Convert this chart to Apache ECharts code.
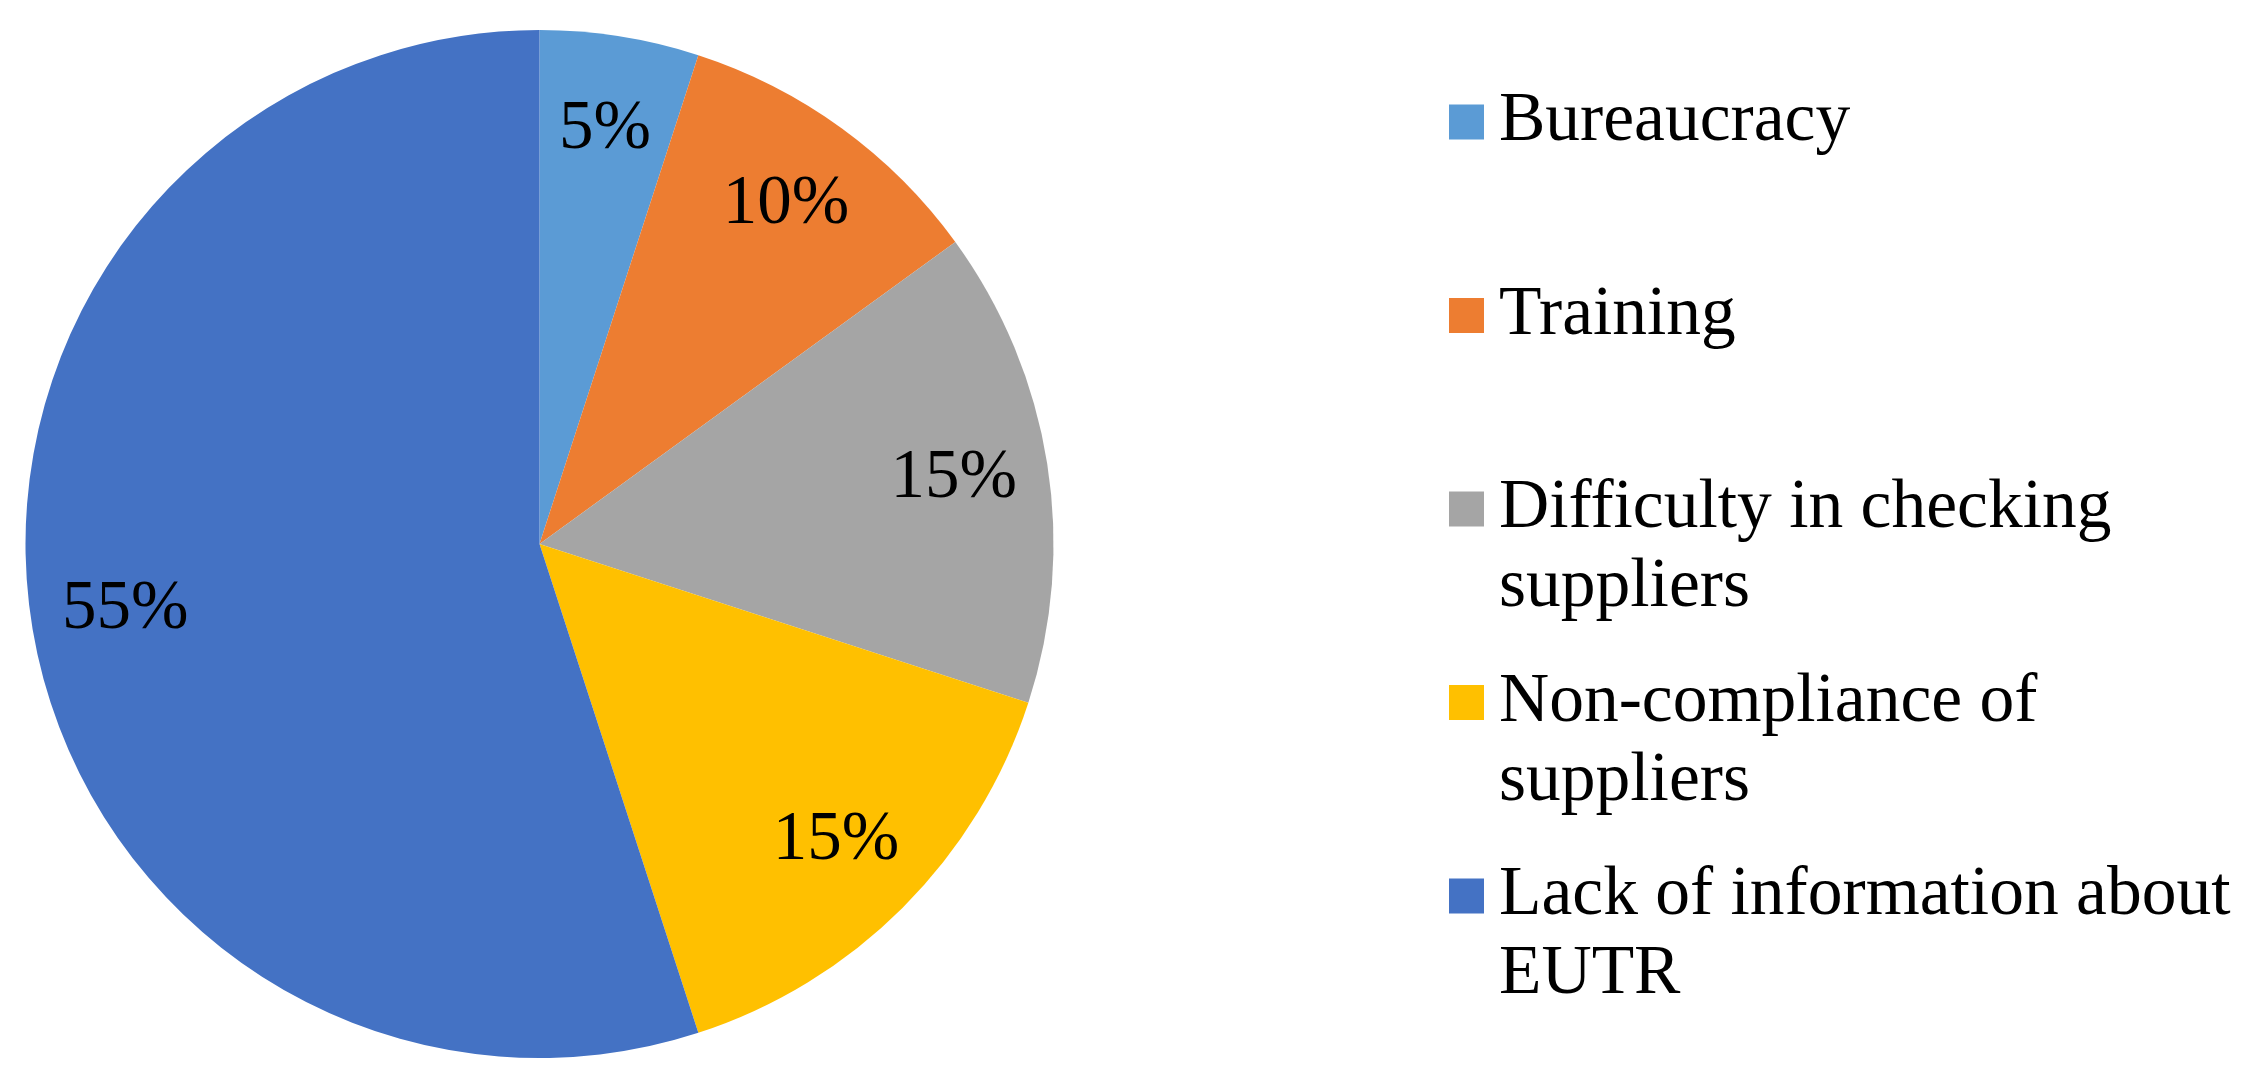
<!DOCTYPE html>
<html>
<head>
<meta charset="utf-8">
<script src="https://cdn.jsdelivr.net/npm/echarts@6/dist/echarts.min.js"></script>
<style>
html,body{margin:0;padding:0;background:#fff;}
#chart{width:2251px;height:1084px;}
</style>
</head>
<body>
<div id="chart"></div>
<script>
// ---- data ----
var categories = ['Bureaucracy', 'Training', 'Difficulty in checking suppliers', 'Non-compliance of suppliers', 'Lack of information about EUTR'];
var legendLines = [['Bureaucracy'], ['Training'], ['Difficulty in checking', 'suppliers'], ['Non-compliance of', 'suppliers'], ['Lack of information about', 'EUTR']];
var values = [5, 10, 15, 15, 55];
var colors = ['#5B9BD5', '#ED7D31', '#A5A5A5', '#FFC000', '#4472C4'];

// ---- layout ----
var CX = 539.5, CY = 544, R = 514;
var FONT = 'Liberation Serif, Times New Roman, serif';

var pieData = categories.map(function (c, i) {
  return { name: c, value: values[i], itemStyle: { color: colors[i] } };
});

var chart = echarts.init(document.getElementById('chart'), null, { renderer: 'canvas' });
chart.setOption({
  backgroundColor: '#ffffff',
  animation: false,
  legend: {
    orient: 'vertical',
    left: 1449,
    top: 1,
    padding: 0,
    itemWidth: 35,
    itemHeight: 35,
    itemGap: -48.5,
    icon: 'rect',
    selectedMode: false,
    data: categories,
    formatter: function (name) {
      var idx = categories.indexOf(name);
      var l = legendLines[idx];
      return ' \n' + l[0] + '\n' + (l[1] || ' ');
    },
    textStyle: {
      fontFamily: FONT,
      fontSize: 69.5,
      lineHeight: 79,
      color: '#000',
      padding: [5, 0, 0, 10]
    }
  },
  series: [
    {
      type: 'pie',
      center: [CX, CY],
      radius: [0, R],
      startAngle: 90,
      clockwise: true,
      silent: true,
      label: { show: false },
      labelLine: { show: false },
      itemStyle: { borderWidth: 0 },
      data: pieData
    },
    {
      type: 'pie',
      center: [CX, CY],
      radius: [R * 0.62, R],
      startAngle: 90,
      clockwise: true,
      silent: true,
      itemStyle: { color: 'rgba(0,0,0,0)', borderWidth: 0 },
      label: {
        show: true,
        position: 'inside',
        formatter: '{d}%',
        fontFamily: FONT,
        fontSize: 69,
        color: '#000'
      },
      labelLine: { show: false },
      data: categories.map(function (c, i) { return { name: c, value: values[i] }; })
    }
  ]
});
</script>
</body>
</html>
